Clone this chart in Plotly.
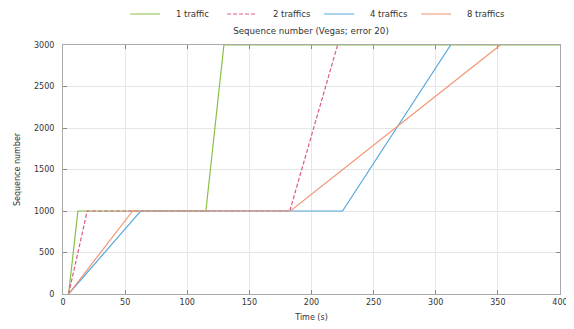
import plotly.graph_objects as go

# Data (time in s, sequence number)
t_1 = [4.5, 12, 115, 129.5, 400]
s_1 = [0, 1000, 1000, 3000, 3000]

t_2 = [4.5, 19.5, 182.5, 221]
s_2 = [0, 1000, 1000, 3000]

t_4 = [4.5, 62.5, 225, 312]
s_4 = [0, 1000, 1000, 3000]

t_8 = [4.5, 56, 183, 352]
s_8 = [0, 1000, 1000, 3000]

names = ["1 traffic", "2 traffics", "4 traffics", "8 traffics"]
colors = ["#88bf48", "#dc5c80", "#55a8dc", "#f29474"]
dashes = ["solid", "4px,2px", "solid", "solid"]

FONT = "DejaVu Sans"
pad = "\u00a0" * 4

# The page body has an 8px margin, so the figure is sized/placed to compensate
W, H = 566, 321

fig = go.Figure()
for t, s, n, c, d in zip([t_1, t_2, t_4, t_8], [s_1, s_2, s_4, s_8], names, colors, dashes):
    fig.add_trace(go.Scatter(x=t, y=s, mode="lines", name=pad + n,
                             line=dict(color=c, width=1.2, dash=d)))

axis_common = dict(
    showgrid=True, gridcolor="#e6e6e6", gridwidth=1,
    showline=True, linecolor="#aaaaaa", linewidth=1, mirror="allticks",
    ticks="inside", ticklen=4, tickcolor="#888888",
    zeroline=False, layer="below traces", automargin=False,
    tickfont=dict(family=FONT, size=8, color="#333333"),
)

fig.update_layout(
    width=W, height=H,
    margin=dict(l=55, r=14, t=37, b=35, autoexpand=False),
    paper_bgcolor="white", plot_bgcolor="white",
    font=dict(family=FONT, size=8, color="#333333"),
    title=dict(text="Sequence number (Vegas; error 20)", x=303 / W, xref="container",
               y=1.0 - 23 / H, yref="container", xanchor="center", yanchor="middle",
               font=dict(family=FONT, size=8.7, color="#333333"), automargin=False),
    xaxis=dict(range=[0, 400], tickvals=[0, 50, 100, 150, 200, 250, 300, 350, 400],
               title=dict(text="Time (s)", standoff=8, font=dict(family=FONT, size=8)),
               **axis_common),
    yaxis=dict(range=[0, 3000], tickvals=[0, 500, 1000, 1500, 2000, 2500, 3000],
               ticklabelstandoff=6,
               title=dict(text="Sequence number", standoff=12, font=dict(family=FONT, size=8)),
               **axis_common),
    legend=dict(orientation="h", x=0.125, xanchor="left", y=1.0 - 6 / H, yref="container",
                yanchor="middle",
                font=dict(family=FONT, size=8.5, color="#333333"),
                entrywidth=52, entrywidthmode="pixels", bgcolor="rgba(0,0,0,0)"),
)

fig.write_html("out.html")
